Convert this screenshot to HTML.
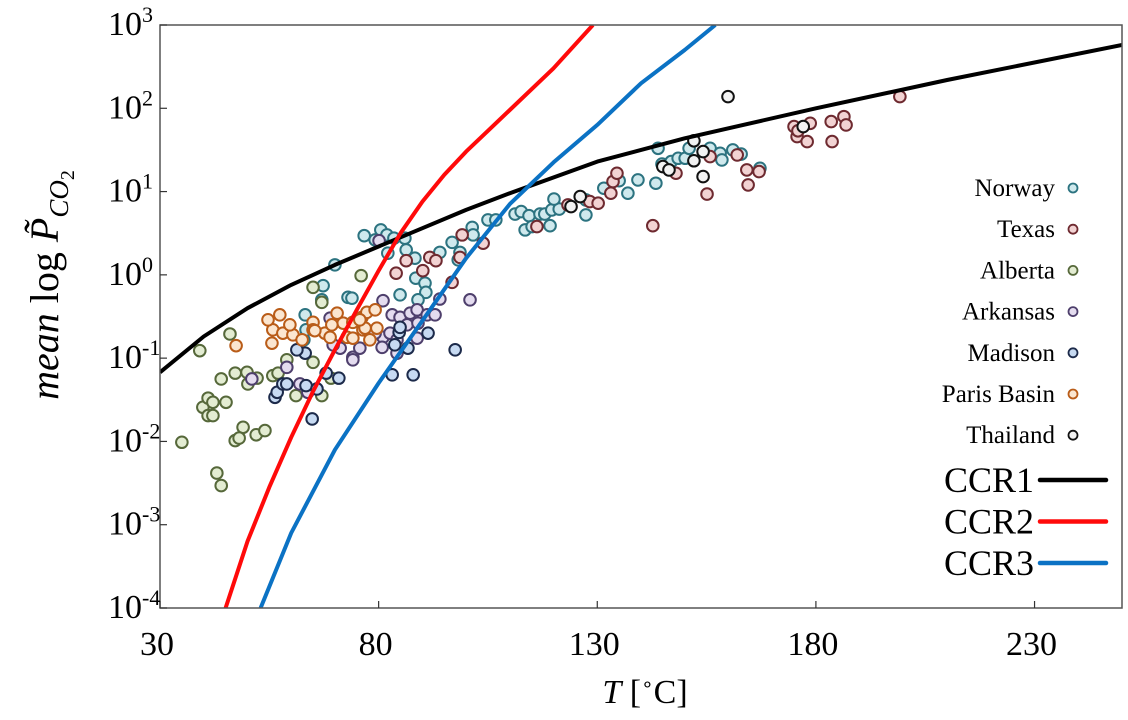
<!DOCTYPE html>
<html><head><meta charset="utf-8"><style>
html,body{margin:0;padding:0;background:#fff;}
svg{display:block;font-family:"Liberation Serif",serif;}
</style></head><body>
<svg id="chart" width="1128" height="720">
<g id="plot"></g>
</svg>
<script>
const xDomain=[30,250], yDomain=[-4,3];
const xTicks=[30,80,130,180,230];
const yTicks=[3,2,1,0,-1,-2,-3,-4];
const ccr1T=[30,40,50,60,70,80,90,100,110,130,150,180,210,250];
const ccr1V=[-1.17,-0.74,-0.40,-0.12,0.12,0.34,0.56,0.78,0.98,1.36,1.64,2.0,2.34,2.76];
const ccr2T=[45,50,55,60,65,70,75,80,85,90,95,100,110,120,129];
const ccr2V=[-4,-3.2,-2.55,-1.95,-1.4,-0.9,-0.42,0.05,0.5,0.88,1.2,1.48,1.98,2.48,3];
const ccr3T=[53,60,70,80,90,100,110,120,130,140,150,157];
const ccr3V=[-4,-3.1,-2.1,-1.3,-0.55,0.2,0.85,1.35,1.8,2.3,2.7,3];
const norwayT=[70.0,76.7,80.5,81.9,79.2,83.5,86.0,86.3,67.3,67.0,63.2,62.9,73.0,73.9,82.1,88.3,88.5,90.6,90.8,84.9,89.0,94.0,96.8,98.6,98.2,101.4,101.6,105.0,106.8,111.2,112.6,114.4,116.9,118.0,119.6,113.5,115.1,119.2,121.3,120.1,127.4,127.4,131.5,135.0,137.0,139.3,143.9,143.4,144.8,146.9,148.5,150.1,151.0,155.8,158.1,158.5,161.0,162.9,167.2,63.4];
const norwayV=[0.12,0.47,0.54,0.48,0.42,0.44,0.44,0.30,-0.13,-0.30,-0.48,-0.78,-0.27,-0.28,0.26,0.20,-0.04,-0.10,-0.21,-0.24,-0.30,0.27,0.39,0.27,0.18,0.57,0.48,0.66,0.66,0.73,0.76,0.71,0.73,0.73,0.78,0.54,0.58,0.59,0.79,0.91,0.72,0.90,1.04,1.13,0.98,1.14,1.52,1.10,1.33,1.36,1.40,1.40,1.52,1.52,1.46,1.38,1.50,1.45,1.28,-0.66];
const texasT=[86.3,84.0,90.1,91.7,93.1,96.8,98.6,99.1,103.9,116.2,123.3,128.3,130.2,133.1,133.6,134.5,142.7,148.0,155.1,155.8,162.0,164.2,167.0,164.5,175.0,175.7,178.7,178.0,183.5,183.7,186.4,186.9,175.9,199.2];
const texasV=[0.17,0.02,0.05,0.21,0.17,-0.09,0.21,0.48,0.38,0.58,0.84,0.88,0.86,0.98,1.12,1.22,0.59,1.22,0.97,1.42,1.44,1.26,1.24,1.08,1.78,1.66,1.82,1.60,1.84,1.60,1.90,1.80,1.73,2.14];
const albertaT=[35.0,39.8,41.0,42.1,41.0,42.1,45.1,44.0,47.2,49.9,50.1,52.2,55.8,49.0,47.2,48.1,52.0,54.0,43.0,44.0,61.1,67.0,69.1,65.0,39.1,46.0,65.0,67.0,76.0,59.0,57.0];
const albertaV=[-2.01,-1.59,-1.48,-1.53,-1.69,-1.69,-1.53,-1.25,-1.18,-1.17,-1.31,-1.24,-1.21,-1.83,-1.99,-1.96,-1.92,-1.87,-2.38,-2.53,-1.45,-1.45,-1.24,-1.05,-0.91,-0.71,-0.15,-0.33,-0.01,-1.02,-1.18];
const arkansasT=[80.1,81.0,68.9,83.1,84.9,87.2,88.8,91.1,92.9,94.0,100.9,81.0,82.6,84.2,88.8,74.1,71.2,84.2,80.8,86.5,89.0,79.2,75.7,69.6,59.0,51.0,62.0,63.8,74.1];
const arkansasV=[0.41,-0.31,-0.52,-0.48,-0.51,-0.46,-0.42,-0.48,-0.48,-0.29,-0.30,-0.75,-0.70,-0.78,-0.76,-0.99,-0.88,-0.94,-0.87,-0.60,-0.58,-0.70,-0.88,-0.84,-1.11,-1.25,-1.31,-1.41,-1.02];
const madisonT=[56.3,56.8,58.1,59.0,63.4,65.9,68.0,70.9,64.8,83.1,87.9,84.7,91.3,83.7,86.7,97.5,63.2,84.9,61.3];
const madisonV=[-1.47,-1.41,-1.31,-1.31,-1.33,-1.37,-1.18,-1.24,-1.73,-1.20,-1.20,-0.69,-0.70,-0.84,-0.88,-0.90,-0.94,-0.63,-0.90];
const parisT=[57.4,55.8,55.6,47.4,58.1,60.4,62.5,65.0,65.0,67.7,68.9,70.5,71.9,72.8,74.1,74.1,76.2,77.3,79.2,76.4,78.0,79.6,69.3,76.9,75.7,65.4,54.7,59.7];
const parisV=[-0.48,-0.66,-0.82,-0.85,-0.70,-0.72,-0.78,-0.57,-0.66,-0.70,-0.75,-0.46,-0.58,-0.75,-0.57,-0.76,-0.51,-0.45,-0.42,-0.66,-0.78,-0.64,-0.60,-0.64,-0.54,-0.67,-0.54,-0.60];
const thaiT=[159.9,152.1,154.2,152.1,154.2,177.1,145.0,146.4,126.1,124.0];
const thaiV=[2.14,1.61,1.48,1.37,1.18,1.78,1.30,1.26,0.94,0.82];

const L=160,R=1122,T=25,B=608;
const sx=v=>L+(v-xDomain[0])/(xDomain[1]-xDomain[0])*(R-L);
const sy=v=>B-(v-yDomain[0])/(yDomain[1]-yDomain[0])*(B-T);
const NS="http://www.w3.org/2000/svg";
const svg=document.getElementById('chart');
const plot=document.getElementById('plot');
function mk(tag,attrs,parent){const e=document.createElementNS(NS,tag);for(const k in attrs)e.setAttribute(k,attrs[k]);(parent||svg).appendChild(e);return e;}

const defs=mk('defs',{});
const cp=mk('clipPath',{id:'clip'},defs);
mk('rect',{x:L,y:T,width:R-L,height:B-T},cp);

const series=[
 ['norway',norwayT,norwayV,'#cfe9ed','#2c7380'],
 ['texas',texasT,texasV,'#f2d3d3','#6e2a30'],
 ['alberta',albertaT,albertaV,'#e3ecd2','#56683a'],
 ['arkansas',arkansasT,arkansasV,'#e4dcef','#4e3f6c'],
 ['madison',madisonT,madisonV,'#c7daf2','#1c2a4a'],
 ['paris-basin',parisT,parisV,'#fbe6d0','#b95c18'],
 ['thailand',thaiT,thaiV,'#f2f2f2','#111111']
];
series.forEach(s=>{
 const g=mk('g',{},plot);
 
 
 s[1].forEach((t,i)=>{
  const c=mk('circle',{cx:sx(t),cy:sy(s[2][i]),r:5.8,fill:s[3],stroke:s[4],'stroke-width':2},g);
  
  
 });
});

function curve(name,ts,vs,color){
 const d=ts.map((t,i)=>(i?'L':'M')+sx(t).toFixed(1)+','+sy(vs[i]).toFixed(1)).join(' ');
 const p=mk('path',{d:d,fill:'none',stroke:color,'stroke-width':4,'clip-path':'url(#clip)','stroke-linejoin':'round'},plot);
 
 
}
curve('ccr1-line',ccr1T,ccr1V,'#000000');
curve('ccr2-line',ccr2T,ccr2V,'#ff0a0a');
curve('ccr3-line',ccr3T,ccr3V,'#0b72c4');

const fr=mk('rect',{x:L,y:T,width:R-L,height:B-T,fill:'none',stroke:'#555','stroke-width':1.5});



xTicks.forEach(v=>{
 const x=sx(v);
 const tk=mk('line',{x1:x,x2:x,y1:B,y2:B-7,stroke:'#333','stroke-width':1.2});
 
 
 const tx=mk('text',{x:x-3,y:655,'text-anchor':'middle','font-size':34,fill:'#000'});
 tx.textContent=v;
 
 
});
yTicks.forEach(v=>{
 const y=sy(v);
 const tk=mk('line',{x1:L,x2:L+7,y1:y,y2:y,stroke:'#333','stroke-width':1.2});
 
 
 const tx=mk('text',{x:108,y:y+10,'font-size':34,fill:'#000'});
 
 
 const a=document.createElementNS(NS,'tspan');a.textContent='10';tx.appendChild(a);
 const b=document.createElementNS(NS,'tspan');b.setAttribute('dy',-13);b.setAttribute('font-size',22);b.textContent=String(v);tx.appendChild(b);
});

const lg=mk('g',{});


const names=['Norway','Texas','Alberta','Arkansas','Madison','Paris Basin','Thailand'];
series.forEach((s,i)=>{
 const y=188+i*41.2;
 const t=mk('text',{x:1055,y:y+8,'text-anchor':'end','font-size':25,fill:'#000'},lg);
 t.textContent=names[i];
 
 
 const c=mk('circle',{cx:1073,cy:y,r:4.5,fill:s[3],stroke:s[4],'stroke-width':1.8},lg);
 
 
});
[['CCR1','#000'],['CCR2','#ff0a0a'],['CCR3','#0b72c4']].forEach((e,i)=>{
 const y=480+i*41.5;
 const t=mk('text',{x:1034,y:y+12,'text-anchor':'end','font-size':36,fill:'#000'},lg);
 t.textContent=e[0];
 
 
 const l=mk('line',{x1:1040,x2:1106,y1:y,y2:y,stroke:e[1],'stroke-width':4.5,'stroke-linecap':'round'},lg);
 
 
});

const xt=mk('text',{x:645,y:703,'text-anchor':'middle','font-size':34,fill:'#000'});


xt.innerHTML='<tspan font-style="italic">T</tspan> [<tspan font-size="20" dy="-12">∘</tspan><tspan dy="12">C]</tspan>';
const yt=mk('text',{x:0,y:0,'text-anchor':'middle','font-size':40,fill:'#000',transform:'translate(58,285) rotate(-90)'});


yt.innerHTML='<tspan font-style="italic">mean</tspan> log <tspan font-style="italic">P̃</tspan><tspan font-style="italic" font-size="27" dy="10">CO</tspan><tspan font-size="20" dy="6">2</tspan>';
</script>
</body></html>
